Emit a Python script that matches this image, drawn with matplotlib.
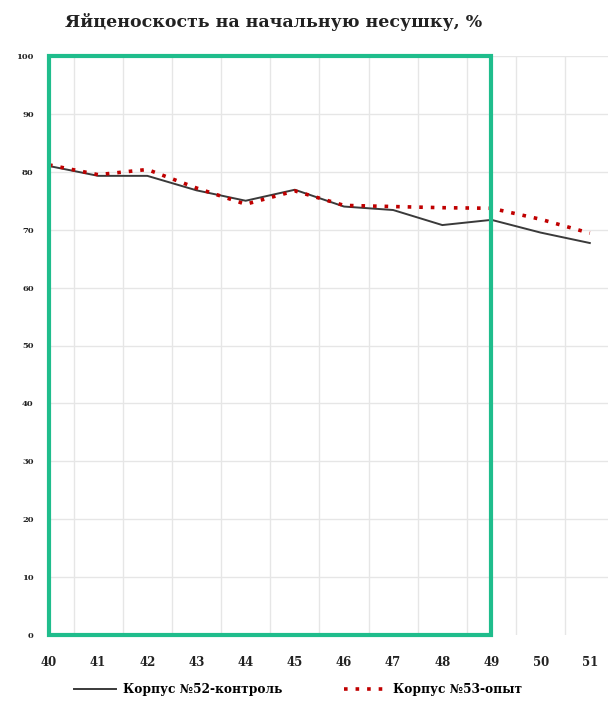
import matplotlib
matplotlib.use("Agg")
import matplotlib.pyplot as plt
from matplotlib.patches import Rectangle

weeks = [40, 41, 42, 43, 44, 45, 46, 47, 48, 49, 50, 51]
control = [81.0, 79.3, 79.3, 76.8, 75.0, 76.9, 74.0, 73.4, 70.8, 71.7, 69.5, 67.7]
experiment = [81.2, 79.5, 80.4, 77.2, 74.4, 76.7, 74.2, 74.0, 73.8, 73.7, 71.8, 69.4]
yticks = [0, 10, 20, 30, 40, 50, 60, 70, 80, 90, 100]
title = "Яйценоскость на начальную несушку, %"
labels = ["Корпус №52-контроль", "Корпус №53-опыт"]

plt.rcParams['font.family'] = ['DejaVu Serif']

fig = plt.figure(figsize=(6.08, 7.02), dpi=100)
W, H = 608, 702
left, right, top, bottom = 49, 608, 56, 635
ax = fig.add_axes([left / W, 1 - bottom / H, (right - left) / W, (bottom - top) / H])

ax.set_xlim(40, 51.37)
ax.set_ylim(0, 100)

# grid
for x in [40.5 + i for i in range(11)]:
    ax.axvline(x, color='#e6e6e6', lw=1.0, zorder=0)
for y in yticks[1:]:
    ax.axhline(y, color='#e6e6e6', lw=1.0, zorder=0)

ax.plot(weeks, control, color='#3a3a3a', lw=1.4, zorder=3, label=labels[0])
ax.plot(weeks, experiment, color='#c00000', lw=2.6, linestyle=(0, (1, 2.2)), zorder=4, label=labels[1])

rect = Rectangle((40, 0), 9, 100, fill=False, edgecolor='#1fbd8c', lw=3, zorder=5, clip_on=False)
ax.add_patch(rect)

for s in ax.spines.values():
    s.set_visible(False)
ax.set_xticks(weeks)
ax.set_xticklabels([str(w) for w in weeks], fontsize=8.5, fontweight='bold', color='#222222')
ax.set_yticks(yticks)
ax.set_yticklabels([str(v) for v in yticks], fontsize=6, fontweight='bold', color='#222222')
ax.tick_params(axis='both', length=0)
ax.tick_params(axis='x', pad=15)
ax.tick_params(axis='y', pad=11)

fig.text(274 / W, 1 - 22 / H, title, ha='center', va='center', fontsize=12.5, fontweight='bold', color='#222222')

handles, lbls = ax.get_legend_handles_labels()
fig.legend(handles, lbls, loc='center', bbox_to_anchor=(298 / W, 1 - 690 / H), ncol=2, frameon=False,
           prop={'size': 8.8, 'weight': 'bold'}, handlelength=3.4, columnspacing=5.0, handletextpad=0.6)

fig.savefig('out.png', dpi=100)
